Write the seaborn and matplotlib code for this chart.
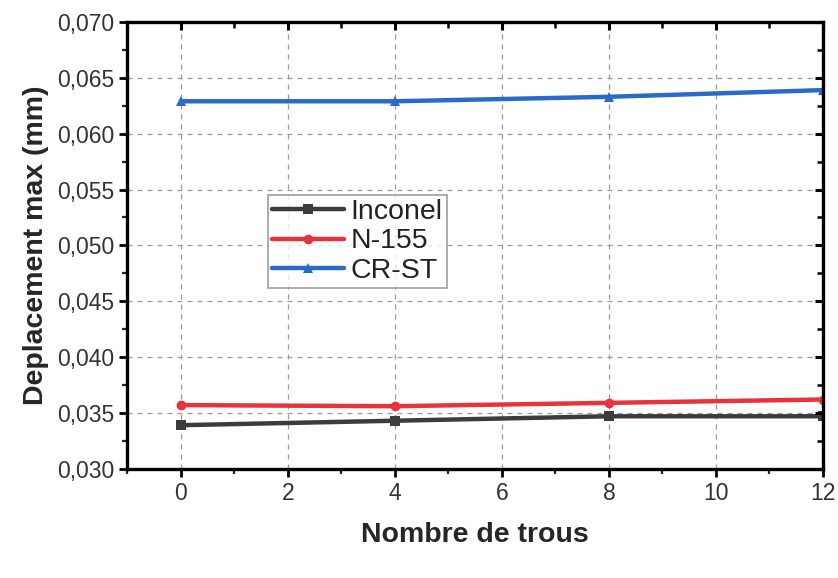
import matplotlib
matplotlib.use("Agg")
import matplotlib.pyplot as plt
import matplotlib.lines as mlines
from matplotlib.ticker import MultipleLocator, FuncFormatter
import seaborn as sns
import pandas as pd

# Number of holes and max displacement (mm) for each alloy
trous = [0, 4, 8, 12]
inconel = [0.0339, 0.0343, 0.0347, 0.0347]
n155 = [0.0357, 0.0356, 0.0359, 0.0362]
crst = [0.0629, 0.0629, 0.0633, 0.0639]
series_names = ["Inconel", "N-155", "CR-ST"]
x_ticks = [0, 2, 4, 6, 8, 10, 12]
y_ticks = [0.030, 0.035, 0.040, 0.045, 0.050, 0.055, 0.060, 0.065, 0.070]

colors = {"Inconel": "#3c3c3c", "N-155": "#e8323c", "CR-ST": "#2a6acb"}
markers = {"Inconel": "s", "N-155": "o", "CR-ST": "^"}

df = pd.DataFrame({
    "Nombre de trous": trous * 3,
    "Deplacement": inconel + n155 + crst,
    "Materiau": [n for n in series_names for _ in trous],
})

sns.set_theme(style="ticks", rc={"xtick.bottom": True, "ytick.left": True})
plt.rcParams["font.family"] = ["Liberation Sans", "DejaVu Sans"]

fig = plt.figure(figsize=(8.38, 5.78), dpi=100)
ax = fig.add_axes([0.152, 0.189, 0.830, 0.773])

sns.lineplot(data=df, x="Nombre de trous", y="Deplacement", hue="Materiau",
             style="Materiau", palette=colors, markers=markers, dashes=False,
             hue_order=series_names, style_order=series_names,
             linewidth=3.2, markersize=7, markeredgewidth=0, ax=ax)

xlim, ylim = (-1, 12), (0.030, 0.070)
ax.set_xlim(*xlim)
ax.set_ylim(*ylim)
ax.set_xticks(x_ticks)
ax.set_yticks(y_ticks)
ax.xaxis.set_minor_locator(MultipleLocator(1))
ax.yaxis.set_minor_locator(MultipleLocator(0.0025))
ax.yaxis.set_major_formatter(FuncFormatter(lambda v, p: f"{v:.3f}".replace(".", ",")))

ax.grid(True, which="major", linestyle=(0, (4, 4)), color="#9a9a9a", linewidth=0.9)
ax.set_axisbelow(True)

for s in ax.spines.values():
    s.set_visible(True)
    s.set_color("black")
    s.set_linewidth(2.4)

# bottom/left ticks point outward
ax.tick_params(axis="both", which="both", bottom=True, left=True, top=False, right=False)
ax.tick_params(axis="both", which="major", direction="out", length=6, width=2,
               labelsize=16.5, colors="black", labelcolor="#333333")
ax.tick_params(axis="both", which="minor", direction="out", length=3.5, width=1.6)

# mirrored tick marks along the top and right frame, pointing inward
x_minor = [v for v in ax.xaxis.get_minorticklocs() if xlim[0] <= v <= xlim[1]]
y_minor = [v for v in ax.yaxis.get_minorticklocs() if ylim[0] <= v <= ylim[1]]
xt = ax.get_xaxis_transform()
yt = ax.get_yaxis_transform()
for locs, size, mew in ((x_ticks, 5.5, 2.2), (x_minor, 4, 1.8)):
    ax.plot(locs, [1] * len(locs), transform=xt, linestyle="none",
            marker=mlines.TICKDOWN, markersize=size, markeredgewidth=mew,
            color="black", clip_on=False, zorder=5)
for locs, size, mew in ((y_ticks, 5.5, 2.2), (y_minor, 4, 1.8)):
    ax.plot([1] * len(locs), locs, transform=yt, linestyle="none",
            marker=mlines.TICKLEFT, markersize=size, markeredgewidth=mew,
            color="black", clip_on=False, zorder=5)

ax.set_xlabel("Nombre de trous", fontsize=20.5, fontweight="bold", labelpad=12)
ax.set_ylabel("Deplacement max (mm)", fontsize=20.5, fontweight="bold", labelpad=6)

handles, labels = ax.get_legend_handles_labels()
leg = ax.legend(handles[:3], labels[:3], loc="upper left", bbox_to_anchor=(0.320, 0.663),
                bbox_transform=fig.transFigure,
                fontsize=20.5, frameon=True, fancybox=False, edgecolor="#888888",
                handlelength=2.5, handletextpad=0.25, borderpad=0.15, labelspacing=0.12,
                borderaxespad=0)
leg.get_frame().set_linewidth(1.2)
for t in leg.get_texts():
    t.set_color("#222222")

fig.savefig("out.png", dpi=100)
